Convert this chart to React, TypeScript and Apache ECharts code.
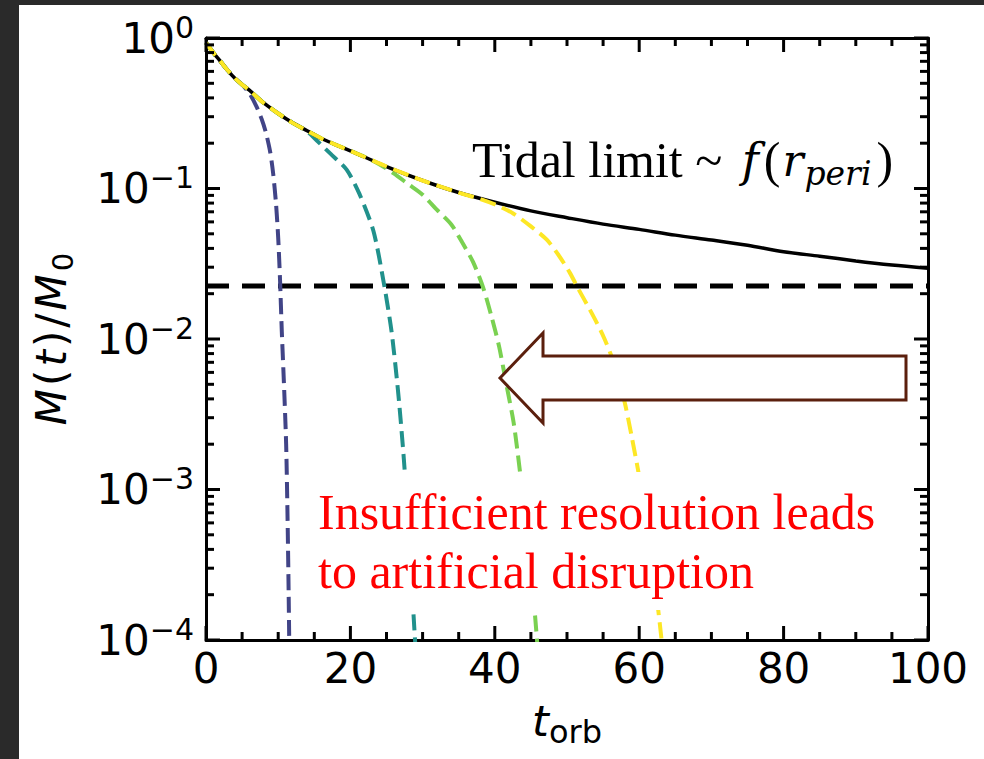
import React, { useEffect, useRef } from 'react';
import * as echarts from 'echarts';

// Tidal-limit envelope M(t)/M0 versus orbital time
const tidalT = [0, 1, 2, 3, 4, 5, 6, 8, 10, 12, 14, 16, 18, 20, 25, 30, 35, 40, 45, 50, 55, 60, 65, 70, 75, 80, 85, 90, 95, 100];
const tidalM = [0.93, 0.8, 0.7, 0.61, 0.54, 0.49, 0.45, 0.37, 0.315, 0.273, 0.242, 0.215, 0.195, 0.178, 0.14, 0.113, 0.094, 0.081, 0.071, 0.064, 0.058, 0.0535, 0.049, 0.0455, 0.042, 0.038, 0.0355, 0.033, 0.031, 0.0295];

// Resolution runs, lowest to highest
const run1T = [0, 1, 2, 3, 4, 5, 6, 7, 7.7, 8.3, 8.9, 9.3, 9.7, 10.0, 10.25, 10.5, 10.8, 11.1, 11.3, 11.45, 11.6];
const run1M = [0.93, 0.8, 0.7, 0.61, 0.54, 0.49, 0.43, 0.35, 0.29, 0.235, 0.174, 0.126, 0.079, 0.047, 0.025, 0.0112, 0.005, 0.002, 0.00063, 0.0002, 0.00005];

const run2T = [0, 1, 2, 3, 4, 5, 6, 8, 10, 12, 14, 15.5, 17.2, 19.5, 21.3, 23.2, 24.6, 25.7, 26.6, 27.4, 28.1, 28.7, 29.2];
const run2M = [0.93, 0.8, 0.7, 0.61, 0.54, 0.49, 0.45, 0.37, 0.315, 0.273, 0.24, 0.205, 0.171, 0.133, 0.091, 0.052, 0.024, 0.0112, 0.0045, 0.0016, 0.0005, 0.00016, 0.000063];

const run3T = [0, 1, 2, 3, 4, 5, 6, 8, 10, 12, 14, 16, 18, 20, 22, 24, 26, 28, 30, 32, 34, 35.5, 37, 38.4, 39.6, 40.6, 41.6, 42.6, 43.5, 44.5, 45.5, 46.0, 46.3];
const run3M = [0.93, 0.8, 0.7, 0.61, 0.54, 0.49, 0.45, 0.37, 0.315, 0.273, 0.242, 0.215, 0.195, 0.178, 0.162, 0.145, 0.126, 0.107, 0.091, 0.072, 0.0575, 0.0437, 0.0324, 0.0219, 0.0138, 0.0089, 0.005, 0.0028, 0.0013, 0.0005, 0.00016, 0.00008, 0.00005];

const run4T = [0, 1, 2, 3, 4, 5, 6, 8, 10, 12, 14, 16, 18, 20, 25, 30, 35, 38, 40.5, 42.6, 45, 47.2, 48.8, 50.4, 51.6, 53, 54.2, 55.2, 56.2, 57.2, 58.1, 59, 59.9, 60.8, 61.7, 62.5, 63.1, 63.5];
const run4M = [0.93, 0.8, 0.7, 0.61, 0.54, 0.49, 0.45, 0.37, 0.315, 0.273, 0.242, 0.215, 0.195, 0.178, 0.14, 0.113, 0.094, 0.085, 0.0767, 0.068, 0.056, 0.0457, 0.0363, 0.0275, 0.0214, 0.0162, 0.0126, 0.01, 0.0076, 0.0054, 0.0036, 0.0022, 0.0013, 0.00074, 0.00038, 0.00018, 0.0001, 0.00006];

// Horizontal reference level
const refLevel = 0.0225;
const xRange = [0, 100];
const yRange = [1e-4, 1];

// Tick positions
const xMajorTicks = [0, 20, 40, 60, 80, 100];
const xMinorTicks = [5, 10, 15, 25, 30, 35, 45, 50, 55, 65, 70, 75, 85, 90, 95];
const yMajorTicks = [1e-4, 1e-3, 1e-2, 1e-1, 1];
const yMinorMultipliers = [2, 3, 4, 5, 6, 7, 8, 9];

const runColors = ['#414487', '#21918c', '#7ad151', '#fde725'];

const tidalLabel = '{n|Tidal limit ~ }{f|f}{n|(}{r|r}{s|peri}{n|)}';
const noteLines = ['Insufficient resolution leads', 'to artificial disruption'];

// Plot box in pixels
const GRID = { left: 206, top: 38, right: 56, bottom: 119 };
const CHART_W = 984;
const CHART_H = 759;
const MAJOR_LEN = 14;
const MINOR_LEN = 8;
const TICK_W = 3;

const zip = (t: number[], m: number[]) => t.map((v, i) => [v, m[i]]);

export default function App() {
  const ref = useRef<HTMLDivElement>(null);

  useEffect(() => {
    if (!ref.current) return;
    const chart = echarts.init(ref.current, undefined, { renderer: 'svg' });

    const tickFont = 'DejaVu Sans';
    const axisLineStyle = { color: '#000', width: 3 };

    // plot box geometry, matching the axis scales (linear x, log10 y)
    const plotL = GRID.left;
    const plotT = GRID.top;
    const plotR = CHART_W - GRID.right;
    const plotB = CHART_H - GRID.bottom;
    const xPx = (v: number) => plotL + ((v - xRange[0]) / (xRange[1] - xRange[0])) * (plotR - plotL);
    const yPx = (v: number) =>
      plotT + ((Math.log10(yRange[1]) - Math.log10(v)) / (Math.log10(yRange[1]) - Math.log10(yRange[0]))) * (plotB - plotT);

    const yMinorTicks: number[] = [];
    yMajorTicks.slice(0, -1).forEach((d) => yMinorMultipliers.forEach((k) => yMinorTicks.push(k * d)));

    // inward tick marks on all four spines
    const ticks: any[] = [];
    const box = (x: number, y: number, w: number, h: number) =>
      ticks.push({ type: 'rect', z: 98, silent: true, shape: { x, y, width: w, height: h }, style: { fill: '#000' } });
    const addTicks = (xs: number[], ys: number[], len: number) => {
      xs.forEach((v) => {
        const x = xPx(v) - TICK_W / 2;
        box(x, plotB - len, TICK_W, len);
        box(x, plotT, TICK_W, len);
      });
      ys.forEach((v) => {
        const y = yPx(v) - TICK_W / 2;
        box(plotL, y, len, TICK_W);
        box(plotR - len, y, len, TICK_W);
      });
    };
    addTicks(xMajorTicks, yMajorTicks, MAJOR_LEN);
    addTicks(xMinorTicks, yMinorTicks, MINOR_LEN);

    const dashedRun = (data: number[][], color: string, z: number) => ({
      type: 'line',
      data,
      showSymbol: false,
      symbol: 'none',
      smooth: 0.25,
      silent: true,
      z,
      lineStyle: { color, width: 4, type: [16, 7] },
    });

    const spineAxis = (extra: any) => ({
      axisLine: { show: true, onZero: false, lineStyle: axisLineStyle },
      axisTick: { show: false },
      splitLine: { show: false },
      minorSplitLine: { show: false },
      ...extra,
    });

    const option: any = {
      animation: false,
      backgroundColor: 'transparent',
      grid: { ...GRID, containLabel: false, outerBoundsMode: 'none' },
      xAxis: [
        spineAxis({
          type: 'value',
          min: xRange[0],
          max: xRange[1],
          interval: 20,
          position: 'bottom',
          axisLabel: { show: true, margin: 7, fontSize: 42, fontFamily: tickFont, color: '#000' },
          name: '{i|t}{sub|orb}',
          nameLocation: 'middle',
          nameGap: 58,
          nameTextStyle: {
            color: '#000',
            rich: {
              i: { fontSize: 43, fontFamily: tickFont, fontStyle: 'italic', lineHeight: 43, color: '#000' },
              sub: { fontSize: 32, fontFamily: tickFont, lineHeight: 32, padding: [22, 0, 0, 0], color: '#000' },
            },
          },
        }),
        spineAxis({
          type: 'value',
          min: xRange[0],
          max: xRange[1],
          interval: 20,
          position: 'top',
          axisLabel: { show: false },
        }),
      ],
      yAxis: [
        spineAxis({
          type: 'log',
          logBase: 10,
          min: yRange[0],
          max: yRange[1],
          position: 'left',
          axisLabel: {
            show: true,
            margin: 12,
            color: '#000',
            formatter: (v: number) => {
              const e = Math.round(Math.log10(v));
              const s = e < 0 ? '\u2212' + String(-e) : String(e);
              return '{b|10}{s|' + s + '}';
            },
            rich: {
              b: { fontSize: 42, fontFamily: tickFont, lineHeight: 42, color: '#000' },
              s: { fontSize: 30, fontFamily: tickFont, lineHeight: 30, padding: [0, 0, 22, 0], color: '#000' },
            },
          },
          name: '{i|M}{n|(}{i|t}{n|)}{n|/}{i|M}{sub|0}',
          nameLocation: 'middle',
          nameRotate: 90,
          nameGap: 134,
          nameTextStyle: {
            color: '#000',
            rich: {
              i: { fontSize: 42, fontFamily: tickFont, fontStyle: 'italic', lineHeight: 42, padding: [0, 3, 0, 0], color: '#000' },
              n: { fontSize: 42, fontFamily: tickFont, lineHeight: 42, padding: [0, 3, 0, 0], color: '#000' },
              sub: { fontSize: 29, fontFamily: tickFont, lineHeight: 29, padding: [24, 0, 0, 0], color: '#000' },
            },
          },
        }),
        spineAxis({
          type: 'log',
          logBase: 10,
          min: yRange[0],
          max: yRange[1],
          position: 'right',
          axisLabel: { show: false },
        }),
      ],
      series: [
        {
          type: 'line',
          data: [[xRange[0], refLevel], [xRange[1], refLevel]],
          showSymbol: false,
          symbol: 'none',
          silent: true,
          z: 2,
          lineStyle: { color: '#000', width: 5, type: [23, 13] },
        },
        dashedRun(zip(run1T, run1M), runColors[0], 3),
        dashedRun(zip(run2T, run2M), runColors[1], 3),
        dashedRun(zip(run3T, run3M), runColors[2], 3),
        {
          type: 'line',
          data: zip(tidalT, tidalM),
          showSymbol: false,
          symbol: 'none',
          smooth: 0.3,
          silent: true,
          z: 4,
          lineStyle: { color: '#000', width: 3.5 },
        },
        dashedRun(zip(run4T, run4M), runColors[3], 4),
      ],
      graphic: [
        ...ticks,
        {
          type: 'text',
          z: 100,
          x: 472,
          y: 160,
          style: {
            text: tidalLabel,
            align: 'left',
            verticalAlign: 'middle',
            fill: '#000',
            rich: {
              n: { fontSize: 50, fontFamily: 'Liberation Serif', lineHeight: 50, fill: '#000' },
              f: { fontSize: 46, fontFamily: 'DejaVu Serif', fontStyle: 'italic', lineHeight: 50, padding: [0, 5, 0, 7], fill: '#000' },
              r: { fontSize: 44, fontFamily: 'DejaVu Serif', fontStyle: 'italic', lineHeight: 50, padding: [0, 0, 0, 2], fill: '#000' },
              s: { fontSize: 33, fontFamily: 'DejaVu Serif', fontStyle: 'italic', lineHeight: 33, padding: [26, 5, 0, 1], fill: '#000' },
            },
          },
        },
        {
          type: 'polygon',
          z: 100,
          shape: { points: [[500, 378], [543, 333], [543, 356], [906, 356], [906, 400], [543, 400], [543, 423]] },
          style: { fill: '#fff', stroke: '#5b1f0d', lineWidth: 3 },
        },
        {
          type: 'rect',
          z: 99,
          shape: { x: 302, y: 472, width: 585, height: 138 },
          style: { fill: '#fff' },
        },
        {
          type: 'text',
          z: 100,
          x: 318,
          y: 482,
          style: {
            text: noteLines.join('\n'),
            align: 'left',
            verticalAlign: 'top',
            fontSize: 50,
            fontFamily: 'Liberation Serif',
            lineHeight: 59,
            fill: '#ff0000',
          },
        },
      ],
    };

    chart.setOption(option);
    return () => chart.dispose();
  }, []);

  return (
    <div style={{ position: 'fixed', left: 0, top: 0, width: CHART_W, height: CHART_H, background: '#2a2a2a', overflow: 'hidden' }}>
      <div style={{ position: 'absolute', left: 19, top: 5, width: CHART_W - 19, height: CHART_H - 5, background: '#ffffff' }} />
      <div ref={ref} style={{ position: 'absolute', left: 0, top: 0, width: CHART_W, height: CHART_H }} />
    </div>
  );
}
